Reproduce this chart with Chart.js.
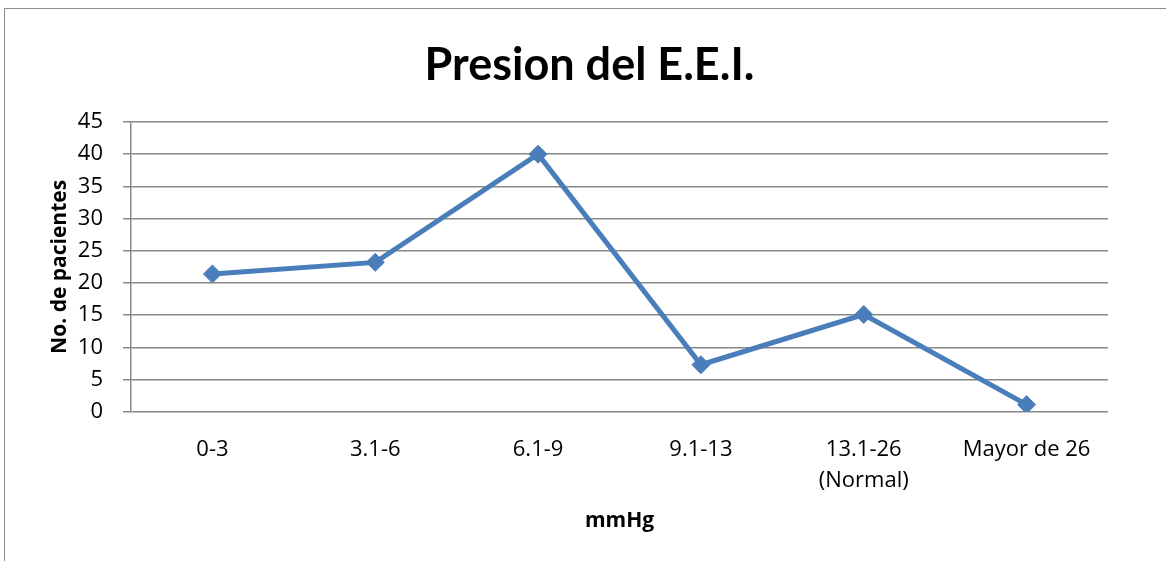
<!DOCTYPE html>
<html>
<head>
<meta charset="utf-8">
<script src="https://cdn.jsdelivr.net/npm/chart.js@4"></script>
<style>
    html, body { margin: 0; padding: 0; background: #fff; }
    #wrap { position: relative; width: 1166px; height: 561px; overflow: hidden; }
    #frame { position: absolute; left: 4px; top: 8px; width: 1200px; height: 600px; border: 1.5px solid #8c8c8c; }
    #chart { position: absolute; left: 0; top: 0; }
</style>
</head>
<body>
<div id="wrap">
    <div id="frame"></div>
    <canvas id="chart" width="1166" height="561"></canvas>
</div>
<script>
var categories = ["0-3", "3.1-6", "6.1-9", "9.1-13", ["13.1-26", "(Normal)"], "Mayor de 26"];
var pacientes = [21.4, 23.2, 40, 7.3, 15.1, 1.1];
var y_ticks = [0, 5, 10, 15, 20, 25, 30, 35, 40, 45];

var fontName = "'Open Sans', 'Liberation Sans', sans-serif";
var blue = "#4a7ebb";
var gray = "#888888";

Chart.defaults.font.family = fontName;
Chart.defaults.color = "#000";

// the title sits a little right of the canvas middle
var shiftTitle = {
    id: "shiftTitle",
    afterLayout: function (chart) {
        if (chart.titleBlock) {
            chart.titleBlock.left += 12;
            chart.titleBlock.right += 12;
        }
    },
};

var ctx = document.getElementById("chart").getContext("2d");
new Chart(ctx, {
    type: "line",
    data: {
        labels: categories,
        datasets: [
            {
                data: pacientes,
                borderColor: blue,
                backgroundColor: blue,
                borderWidth: 5,
                pointStyle: "rectRot",
                pointRadius: 9,
                pointBackgroundColor: blue,
                pointBorderColor: blue,
                pointBorderWidth: 1,
                tension: 0,
            },
        ],
    },
    plugins: [shiftTitle],
    options: {
        responsive: false,
        animation: false,
        layout: {
            padding: { left: 47, right: 58, top: 0, bottom: 27 },
        },
        plugins: {
            legend: { display: false },
            tooltip: { enabled: false },
            title: {
                display: true,
                text: "Presion del E.E.I.",
                font: { family: "Lato, sans-serif", size: 45, weight: "bold" },
                color: "#000",
                padding: { top: 38, bottom: 30 },
            },
        },
        scales: {
            x: {
                offset: true,
                grid: { display: false, drawTicks: false },
                border: { display: false },
                ticks: {
                    font: { size: 22, lineHeight: 1.41 },
                    padding: 22,
                    maxRotation: 0,
                    autoSkip: false,
                },
                title: {
                    display: true,
                    text: "mmHg",
                    font: { size: 21, weight: "bold" },
                    padding: { top: -9, bottom: 0 },
                },
            },
            y: {
                min: 0,
                max: 45,
                afterFit: function (scale) {
                    scale.width = 84;
                },
                afterBuildTicks: function (scale) {
                    scale.ticks = y_ticks.map((v) => ({ value: v }));
                },
                grid: {
                    color: gray,
                    lineWidth: 1.5,
                    tickLength: 8,
                },
                border: { display: true, color: gray, width: 1.5 },
                ticks: {
                    font: { size: 22 },
                    padding: 20,
                },
                title: {
                    display: true,
                    text: "No. de pacientes",
                    font: { size: 21, weight: "bold" },
                    padding: 0,
                },
            },
        },
    },
});
</script>
</body>
</html>
